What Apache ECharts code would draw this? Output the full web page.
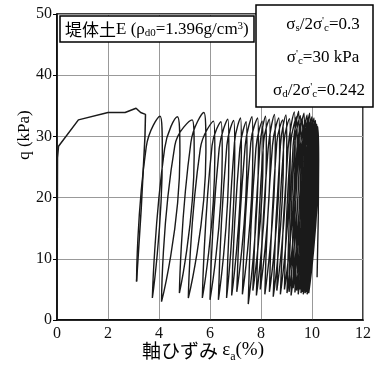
<!DOCTYPE html>
<html>
<head>
<meta charset="utf-8">
<script src="https://cdn.jsdelivr.net/npm/echarts@6/dist/echarts.min.js"></script>
<style>
html, body { margin: 0; padding: 0; background: #fff; }
#container { width: 375px; height: 368px; }
</style>
</head>
<body>
<div id="container"></div>
<script>
// monotonic part up to the first failure, then the drop to the first trough
var monoStrain = [0, 0.02, 0.06, 0.84, 2.0, 2.67, 3.1, 3.28, 3.47, 3.45, 3.3, 3.12];
var monoQ      = [0, 26.5, 28.4, 32.7, 33.9, 33.9, 34.6, 33.9, 33.6, 30.0, 18.0, 6.3];

// cyclic part: one entry per cycle (trough -> loading branch -> peak -> start of unloading)
var troughStrain = [3.12, 3.74, 4.10, 4.80, 5.15, 5.70, 6.00, 6.33, 6.65, 6.85, 7.05, 7.27, 7.50, 7.68, 7.82, 7.97, 8.15,
                    8.33, 8.48, 8.62, 8.76, 8.92, 9.02, 9.10, 9.18, 9.26, 9.33, 9.40, 9.46, 9.52, 9.57, 9.62, 9.66,
                    9.70, 9.73, 9.76, 9.79, 9.81, 9.83, 9.85, 9.87];
var troughQ      = [6.3, 3.6, 3.0, 4.4, 3.6, 3.6, 3.3, 3.3, 3.6, 4.0, 4.6, 4.2, 2.6, 4.8, 4.0, 5.0, 4.2,
                    4.6, 3.8, 4.8, 4.2, 5.0, 4.4, 4.6, 4.0, 5.2, 4.5, 4.8, 4.2, 5.0, 4.4, 4.6, 4.2,
                    4.8, 4.4, 5.0, 4.6, 4.2, 4.8, 4.5, 4.4];
var riseStrain   = [3.50, 4.22, 4.62, 5.25, 5.62, 6.08, 6.36, 6.66, 6.96, 7.17, 7.38, 7.60, 7.80, 7.96, 8.10, 8.28, 8.45,
                    8.62, 8.76, 8.90, 9.06, 9.17, 9.26, 9.33, 9.41, 9.48, 9.55, 9.61, 9.67, 9.72, 9.77, 9.82, 9.86,
                    9.90, 9.94, 9.97, 10.00, 10.03, 10.05, 10.07, 10.09];
var riseQ        = [28.3, 28.0, 28.5, 29.0, 28.0, 28.5, 28.0, 28.5, 29.0, 28.0, 28.5, 29.0, 28.0, 28.5, 29.0, 28.0, 28.5,
                    29.0, 28.5, 29.0, 28.0, 29.0, 28.5, 29.0, 28.0, 29.0, 28.5, 28.0, 28.5, 28.0, 28.5, 28.0, 28.5,
                    28.0, 28.0, 28.5, 28.0, 27.5, 28.0, 27.5, 27.5];
var peakStrain   = [4.04, 4.72, 5.30, 5.76, 6.14, 6.43, 6.70, 6.93, 7.20, 7.42, 7.65, 7.87, 8.05, 8.18, 8.33, 8.53, 8.70,
                    8.85, 8.98, 9.12, 9.31, 9.40, 9.48, 9.55, 9.62, 9.69, 9.75, 9.81, 9.86, 9.91, 9.96, 10.00, 10.04,
                    10.08, 10.11, 10.14, 10.17, 10.19, 10.21, 10.23, 10.24];
var peakQ        = [33.3, 33.2, 32.7, 33.9, 32.5, 32.4, 32.8, 32.6, 33.0, 32.4, 33.2, 33.0, 32.5, 33.3, 32.8, 33.6, 33.0,
                    32.7, 33.5, 32.9, 34.0, 33.2, 34.1, 33.4, 33.0, 33.8, 32.6, 33.5, 33.0, 33.8, 32.8, 33.2, 32.5,
                    33.0, 32.3, 32.6, 31.8, 32.0, 31.5, 31.6, 31.2];
var fallStrain   = [4.13, 4.82, 5.38, 5.84, 6.19, 6.48, 6.74, 6.97, 7.23, 7.45, 7.68, 7.90, 8.08, 8.21, 8.36, 8.56, 8.73,
                    8.88, 9.01, 9.15, 9.34, 9.42, 9.50, 9.57, 9.64, 9.71, 9.77, 9.83, 9.88, 9.93, 9.98, 10.02, 10.06,
                    10.10, 10.13, 10.16, 10.19, 10.21, 10.23, 10.25, 10.26];
var fallQ        = [27.0, 27.0, 27.0, 27.5, 27.0, 27.0, 27.0, 27.0, 27.5, 27.0, 27.5, 27.5, 27.0, 27.5, 27.0, 28.0, 27.5,
                    27.0, 28.0, 27.5, 28.0, 27.5, 28.0, 27.5, 27.5, 28.0, 27.0, 27.5, 27.0, 28.0, 27.0, 27.5, 27.0,
                    27.5, 27.0, 27.0, 26.5, 27.0, 26.5, 26.5, 26.0];
var endStrain = [10.2];
var endQ      = [7.0];

var xTicks = [0, 2, 4, 6, 8, 10, 12];
var yTicks = [0, 10, 20, 30, 40, 50];

var monotonic = [];
for (var i = 0; i < monoStrain.length; i++) monotonic.push([monoStrain[i], monoQ[i]]);

var cyclic = [];
for (var j = 0; j < troughStrain.length; j++) {
    cyclic.push([troughStrain[j], troughQ[j]]);
    cyclic.push([riseStrain[j], riseQ[j]]);
    cyclic.push([peakStrain[j], peakQ[j]]);
    cyclic.push([fallStrain[j], fallQ[j]]);
}
for (var k = 0; k < endStrain.length; k++) cyclic.push([endStrain[k], endQ[k]]);

var serif = '"Liberation Serif", "Times New Roman", serif';
var cjk = '"Noto Sans CJK JP", sans-serif';

var rich = {
    t:   { fontFamily: serif, fontSize: 17, color: '#000', lineHeight: 18, verticalAlign: 'top' },
    j:   { fontFamily: cjk, fontSize: 17, color: '#000', lineHeight: 18, verticalAlign: 'top' },
    sb:  { fontFamily: serif, fontSize: 11, color: '#000', lineHeight: 11, verticalAlign: 'bottom', padding: [10, 0, 0, 0] },
    sp:  { fontFamily: serif, fontSize: 11, color: '#000', lineHeight: 11, verticalAlign: 'top' }
};

var dom = document.getElementById('container');
var myChart = echarts.init(dom);

var option = {
    animation: false,
    grid: {
        left: 57,
        top: 14,
        width: 306,
        height: 306,
        show: true,
        borderColor: '#000',
        borderWidth: 1.5,
        outerBoundsMode: 'none'
    },
    xAxis: {
        type: 'value',
        min: xTicks[0],
        max: xTicks[xTicks.length - 1],
        interval: 2,
        axisLine: { lineStyle: { color: '#000', width: 1.5 } },
        axisTick: { show: false },
        splitLine: { lineStyle: { color: '#999', width: 1 } },
        axisLabel: { color: '#111', fontFamily: serif, fontSize: 16, margin: 6 }
    },
    yAxis: {
        type: 'value',
        min: yTicks[0],
        max: yTicks[yTicks.length - 1],
        interval: 10,
        axisLine: { show: true, lineStyle: { color: '#000', width: 1.5 } },
        axisTick: { show: true, inside: false, length: 4, lineStyle: { color: '#000' } },
        splitLine: { lineStyle: { color: '#999', width: 1 } },
        axisLabel: { color: '#111', fontFamily: serif, fontSize: 16, margin: 5 }
    },
    graphic: [
        // axis titles
        {
            type: 'text', x: 25, y: 135, rotation: Math.PI / 2,
            style: { text: 'q (kPa)', font: '17px ' + serif, fill: '#000', align: 'center', verticalAlign: 'middle' }
        },
        {
            type: 'text', x: 203, y: 352,
            style: {
                text: '{j|軸ひずみ }{e|ε}{es|a}{e|(%)}',
                align: 'center', verticalAlign: 'middle',
                rich: {
                    j:  { fontFamily: cjk, fontSize: 19, color: '#000', lineHeight: 22, verticalAlign: 'top' },
                    e:  { fontFamily: serif, fontSize: 19, color: '#000', lineHeight: 22, verticalAlign: 'top' },
                    es: { fontFamily: serif, fontSize: 12, color: '#000', lineHeight: 12, verticalAlign: 'bottom', padding: [14, 0, 0, 0] }
                }
            }
        },
        // material box
        {
            type: 'rect', shape: { x: 60, y: 16, width: 194, height: 26 },
            style: { fill: '#fff', stroke: '#000', lineWidth: 1.5 }, z: 10
        },
        {
            type: 'text', x: 65, y: 30, z: 11,
            style: {
                text: '{j|堤体土}{t|E (ρ}{sb|d0}{t|=1.396g/cm}{sp|3}{t|)}',
                align: 'left', verticalAlign: 'middle', rich: rich
            }
        },
        // loading condition box
        {
            type: 'rect', shape: { x: 256, y: 5, width: 117, height: 102 },
            style: { fill: '#fff', stroke: '#000', lineWidth: 1.5 }, z: 10
        },
        {
            type: 'text', x: 323, y: 25, z: 11,
            style: { text: '{t|σ}{sb|s}{t|/2σ}{sp|\'}{sb|c}{t|=0.3}', align: 'center', verticalAlign: 'middle', rich: rich }
        },
        {
            type: 'text', x: 323, y: 58, z: 11,
            style: { text: '{t|σ}{sp|\'}{sb|c}{t|=30 kPa}', align: 'center', verticalAlign: 'middle', rich: rich }
        },
        {
            type: 'text', x: 319, y: 91, z: 11,
            style: { text: '{t|σ}{sb|d}{t|/2σ}{sp|\'}{sb|c}{t|=0.242}', align: 'center', verticalAlign: 'middle', rich: rich }
        }
    ],
    series: [
        {
            type: 'line',
            data: monotonic,
            symbol: 'none',
            lineStyle: { color: '#1a1a1a', width: 1.5 },
            z: 5
        },
        {
            type: 'line',
            data: cyclic,
            symbol: 'none',
            smooth: 0.5,
            lineStyle: { color: '#1a1a1a', width: 1.4 },
            z: 5
        }
    ]
};

myChart.setOption(option);
</script>
</body>
</html>
